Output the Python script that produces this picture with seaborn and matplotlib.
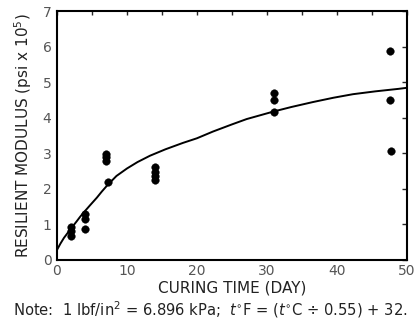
import seaborn as sns
import pandas as pd
from matplotlib import pyplot as plt
from matplotlib.ticker import MultipleLocator

# measured points (curing time, resilient modulus x 10^5 psi)
days = [2, 2, 2, 4, 4, 4, 7, 7, 7, 7.3, 14, 14, 14, 14, 31, 31, 31, 47.6, 47.6, 47.8]
modulus = [0.92, 0.80, 0.68, 1.28, 1.16, 0.88, 2.98, 2.89, 2.79, 2.18,
           2.60, 2.48, 2.37, 2.25, 4.70, 4.50, 4.17, 5.87, 4.50, 3.05]

# fitted curve
curve_x = [0, 0.5, 1, 1.5, 1.9, 2.4, 2.8, 3.3, 3.8, 4.3, 4.7, 5.2, 5.7, 6.4, 7.2, 8.5, 10,
           11.5, 13.3, 15.5, 18, 20, 22.3, 25, 27.1, 30.9, 33.5, 36.6, 39.5, 42.3, 45.5, 48.8, 50]
curve_y = [0.28, 0.46, 0.62, 0.75, 0.86, 0.98, 1.08, 1.21, 1.33, 1.44, 1.53, 1.64, 1.75,
           1.92, 2.10, 2.36, 2.57, 2.75, 2.93, 3.11, 3.29, 3.42, 3.61, 3.81, 3.96, 4.17,
           4.30, 4.44, 4.56, 4.66, 4.74, 4.81, 4.84]

pts = pd.DataFrame({"day": days, "mr": modulus})
fit = pd.DataFrame({"day": curve_x, "mr": curve_y})

sns.set_style("white")
plt.rcParams["font.family"] = ["DejaVu Sans"]

fig = plt.figure(figsize=(4.16, 3.24), dpi=100)
ax = fig.add_axes([0.137, 0.198, 0.841, 0.768])

sns.lineplot(data=fit, x="day", y="mr", sort=False, estimator=None,
             color="black", linewidth=1.4, ax=ax)
sns.scatterplot(data=pts, x="day", y="mr", color="black", s=30,
                edgecolor="black", linewidth=0.3, ax=ax)

ax.set_xlim(0, 50)
ax.set_ylim(0, 7)
ax.xaxis.set_major_locator(MultipleLocator(10))
ax.xaxis.set_minor_locator(MultipleLocator(5))
ax.yaxis.set_major_locator(MultipleLocator(1))

for s in ax.spines.values():
    s.set_linewidth(1.5)
    s.set_color("black")

ax.tick_params(axis="x", which="major", direction="in", length=6, width=1,
               labelsize=10, labelcolor="#555555", pad=3)
ax.tick_params(axis="x", which="minor", direction="in", length=4, width=1)
ax.tick_params(axis="y", which="major", direction="in", length=8.5, width=1,
               labelsize=10, labelcolor="#555555", pad=4)

top = ax.secondary_xaxis("top")
top.xaxis.set_major_locator(MultipleLocator(5))
top.tick_params(direction="in", length=3, width=1, labeltop=False)
top.spines["top"].set_visible(False)
right = ax.secondary_yaxis("right")
right.yaxis.set_major_locator(MultipleLocator(1))
right.tick_params(direction="in", length=3.5, width=1, labelright=False)
right.spines["right"].set_visible(False)

ax.set_xlabel("CURING TIME (DAY)", fontsize=11, color="#222222", labelpad=2)
ax.set_ylabel("RESILIENT MODULUS (psi x 10$^5$)", fontsize=11, color="#222222", labelpad=6)

fig.text(0.505, 0.012, "Note:  1 lbf/in$^2$ = 6.896 kPa;  $t$$^{\\circ}$F = ($t$$^{\\circ}$C \u00f7 0.55) + 32.",
         ha="center", va="bottom", fontsize=10.6, color="#222222")

plt.savefig("out.png", dpi=100)
